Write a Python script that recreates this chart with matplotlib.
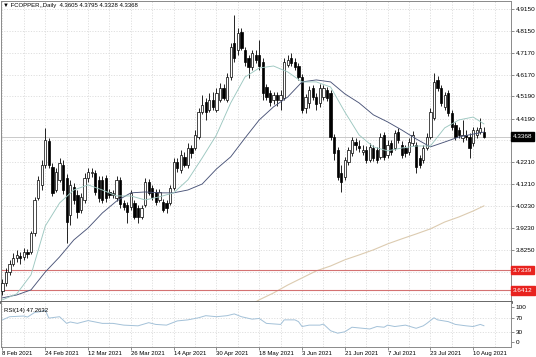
import matplotlib
matplotlib.use("Agg")
import matplotlib.pyplot as plt
import matplotlib.transforms as mtransforms
import numpy as np

# ---------------- data ----------------
opens = [3.639, 3.675, 3.725, 3.761, 3.789, 3.798, 3.793, 3.816, 3.816, 3.902,
         4.060, 4.119, 4.209, 4.318, 4.200, 4.096, 4.142, 4.209, 4.151, 3.983,
         4.110, 4.074, 4.006, 4.051, 4.151, 4.173, 4.173, 4.142, 4.142, 4.151,
         4.087, 4.074, 4.060, 4.142, 4.037, 4.028, 4.019, 4.037, 4.015, 3.974,
         4.028, 4.132, 4.105, 4.087, 4.051, 4.042, 4.037, 4.037, 4.105, 4.223,
         4.187, 4.246, 4.209, 4.286, 4.286, 4.336, 4.449, 4.494, 4.458, 4.503,
         4.458, 4.503, 4.558, 4.503, 4.607, 4.761, 4.730, 4.811, 4.730, 4.693,
         4.653, 4.707, 4.707, 4.675, 4.562, 4.535, 4.503, 4.526, 4.503, 4.512,
         4.662, 4.693, 4.675, 4.657, 4.607, 4.467, 4.490, 4.558, 4.517, 4.490,
         4.517, 4.548, 4.535, 4.336, 4.277, 4.173, 4.155, 4.223, 4.264, 4.313,
         4.295, 4.268, 4.277, 4.232, 4.286, 4.277, 4.246, 4.345, 4.255, 4.309,
         4.286, 4.358, 4.300, 4.286, 4.268, 4.309, 4.300, 4.241, 4.232, 4.286,
         4.336, 4.422, 4.594, 4.558, 4.472, 4.535, 4.444, 4.390, 4.367, 4.331,
         4.345, 4.336, 4.309, 4.345, 4.358, 4.3605]
highs = [3.694, 3.743, 3.780, 3.811, 3.825, 3.816, 3.834, 3.829, 3.911, 4.065,
         4.160, 4.232, 4.377, 4.331, 4.218, 4.196, 4.241, 4.232, 4.169, 4.142,
         4.128, 4.096, 4.083, 4.173, 4.196, 4.196, 4.187, 4.160, 4.160, 4.164,
         4.101, 4.096, 4.160, 4.155, 4.051, 4.042, 4.096, 4.051, 4.028, 4.028,
         4.151, 4.146, 4.119, 4.101, 4.101, 4.055, 4.051, 4.119, 4.241, 4.241,
         4.277, 4.268, 4.309, 4.300, 4.367, 4.467, 4.526, 4.512, 4.535, 4.540,
         4.558, 4.580, 4.576, 4.626, 4.761, 4.888, 4.829, 4.829, 4.743, 4.707,
         4.730, 4.730, 4.775, 4.693, 4.576, 4.548, 4.540, 4.540, 4.548, 4.693,
         4.707, 4.716, 4.693, 4.671, 4.621, 4.531, 4.567, 4.571, 4.535, 4.576,
         4.571, 4.562, 4.548, 4.349, 4.291, 4.209, 4.246, 4.291, 4.336, 4.331,
         4.322, 4.300, 4.295, 4.309, 4.300, 4.291, 4.354, 4.358, 4.322, 4.322,
         4.367, 4.377, 4.318, 4.300, 4.331, 4.363, 4.313, 4.255, 4.300, 4.354,
         4.467, 4.626, 4.612, 4.571, 4.540, 4.548, 4.458, 4.404, 4.381, 4.413,
         4.367, 4.354, 4.381, 4.381, 4.422, 4.3795]
lows = [3.621, 3.662, 3.712, 3.752, 3.770, 3.761, 3.780, 3.789, 3.807, 3.888,
        4.051, 4.096, 4.196, 4.196, 4.069, 4.087, 4.132, 4.078, 3.856, 3.938,
        4.033, 3.970, 3.992, 4.037, 4.132, 4.155, 4.074, 4.042, 4.037, 4.042,
        4.060, 4.060, 4.046, 4.015, 4.006, 3.947, 4.006, 3.965, 3.947, 3.965,
        4.019, 4.074, 4.051, 4.028, 4.042, 3.997, 3.992, 4.028, 4.096, 4.178,
        4.173, 4.200, 4.196, 4.241, 4.277, 4.327, 4.440, 4.413, 4.449, 4.458,
        4.449, 4.494, 4.503, 4.494, 4.594, 4.675, 4.707, 4.730, 4.657, 4.603,
        4.639, 4.671, 4.639, 4.503, 4.503, 4.476, 4.485, 4.476, 4.458, 4.503,
        4.653, 4.657, 4.639, 4.594, 4.444, 4.444, 4.467, 4.503, 4.458, 4.472,
        4.503, 4.499, 4.322, 4.232, 4.142, 4.087, 4.142, 4.209, 4.250, 4.277,
        4.268, 4.255, 4.218, 4.223, 4.227, 4.218, 4.236, 4.232, 4.241, 4.255,
        4.277, 4.309, 4.241, 4.246, 4.255, 4.295, 4.173, 4.196, 4.218, 4.277,
        4.327, 4.413, 4.544, 4.476, 4.458, 4.431, 4.367, 4.322, 4.331, 4.313,
        4.322, 4.241, 4.295, 4.331, 4.349, 4.3328]
closes = [3.675, 3.725, 3.761, 3.789, 3.802, 3.789, 3.816, 3.807, 3.902, 4.051,
          4.142, 4.209, 4.322, 4.209, 4.083, 4.178, 4.218, 4.096, 3.951, 4.119,
          4.051, 3.997, 4.065, 4.151, 4.178, 4.178, 4.087, 4.060, 4.051, 4.060,
          4.074, 4.083, 4.142, 4.033, 4.019, 3.997, 4.083, 3.974, 3.974, 4.015,
          4.132, 4.083, 4.065, 4.042, 4.087, 4.006, 4.015, 4.105, 4.223, 4.196,
          4.255, 4.209, 4.286, 4.264, 4.345, 4.449, 4.481, 4.449, 4.503, 4.472,
          4.535, 4.558, 4.512, 4.607, 4.743, 4.693, 4.806, 4.739, 4.675, 4.653,
          4.716, 4.684, 4.657, 4.535, 4.517, 4.494, 4.526, 4.503, 4.526, 4.675,
          4.684, 4.671, 4.653, 4.607, 4.458, 4.517, 4.548, 4.517, 4.485, 4.558,
          4.558, 4.512, 4.336, 4.264, 4.155, 4.132, 4.232, 4.277, 4.322, 4.300,
          4.286, 4.277, 4.232, 4.291, 4.241, 4.232, 4.336, 4.246, 4.300, 4.268,
          4.354, 4.322, 4.255, 4.264, 4.313, 4.345, 4.200, 4.209, 4.286, 4.336,
          4.449, 4.585, 4.558, 4.490, 4.526, 4.444, 4.381, 4.336, 4.345, 4.345,
          4.336, 4.286, 4.367, 4.367, 4.377, 4.3368]

ma_idx = [0, 4, 8, 12, 16, 20, 24, 28, 32, 36, 40, 44, 48, 52, 56, 60, 64, 68,
          72, 76, 80, 84, 88, 92, 96, 100, 104, 108, 112, 116, 120, 124, 128,
          132, 135]
ma_fast = [3.599, 3.626, 3.712, 3.933, 4.037, 4.096, 4.119, 4.096, 4.069, 4.069,
           4.051, 4.065, 4.083, 4.142, 4.241, 4.345, 4.490, 4.607, 4.648, 4.657,
           4.630, 4.585, 4.585, 4.562, 4.449, 4.345, 4.291, 4.273, 4.286, 4.295,
           4.295, 4.377, 4.413, 4.426, 4.395]
ma_slow = [3.608, 3.621, 3.644, 3.725, 3.793, 3.870, 3.924, 3.992, 4.046, 4.083,
           4.087, 4.083, 4.083, 4.096, 4.123, 4.191, 4.246, 4.331, 4.413, 4.472,
           4.517, 4.585, 4.594, 4.585, 4.531, 4.490, 4.436, 4.404, 4.367, 4.327,
           4.291, 4.313, 4.336, 4.349, 4.358]
ma_long_idx = [70, 72, 76, 80, 84, 88, 92, 96, 100, 104, 108, 112, 116, 120,
               124, 128, 132, 135]
ma_long = [3.580, 3.599, 3.630, 3.666, 3.698, 3.730, 3.752, 3.780, 3.802, 3.825,
           3.852, 3.875, 3.897, 3.920, 3.951, 3.974, 4.001, 4.024]

rsi_idx = [0, 2, 6, 7, 9, 11, 12, 13, 16, 18, 19, 21, 24, 27, 28, 31, 34, 38,
           41, 43, 46, 49, 52, 55, 57, 60, 63, 65, 67, 70, 72, 74, 78, 79, 82,
           83, 84, 86, 89, 90, 92, 94, 96, 98, 101, 103, 105, 107, 108, 110,
           113, 116, 118, 119, 121, 122, 125, 127, 130, 132, 134, 135]
rsi_val = [64, 73, 75, 72, 85, 88, 92, 69, 73, 54, 58, 54, 62, 56, 54, 54, 49, 47,
           56, 51, 49, 61, 64, 70, 76, 73, 76, 81, 73, 66, 68, 54, 51, 64, 64,
           59, 45, 49, 49, 52, 33, 26, 30, 43, 40, 38, 45, 43, 49, 45,
           49, 40, 47, 54, 70, 64, 59, 51, 47, 45, 51, 47.26]

date_idx = [0, 12, 24, 36, 48, 60, 72, 84, 96, 108, 120, 132]
date_labels = ["8 Feb 2021", "24 Feb 2021", "12 Mar 2021", "26 Mar 2021",
               "14 Apr 2021", "30 Apr 2021", "18 May 2021", "3 Jun 2021",
               "21 Jun 2021", "7 Jul 2021", "23 Jul 2021", "10 Aug 2021"]
vgrid_idx = list(range(0, 143, 6))
price_ticks = [4.9150, 4.8150, 4.7170, 4.6170, 4.5190, 4.4190, 4.3210, 4.2210,
               4.1210, 4.0230, 3.9230, 3.8250, 3.7270, 3.6270]
price_tick_labels = ["4.9150", "4.8150", "4.7170", "4.6170", "4.5190", "4.4190",
                     "4.3210", "4.2210", "4.1210", "4.0230", "3.9230", "3.8250",
                     "", "3.6270"]
level_lines = [3.7339, 3.6412]
last_price = 4.3368
rsi_ticks = [0, 30, 70, 100]
rsi_levels = [30, 70]
title = "\u25bc FCOPPER,,Daily  4.3605 4.3795 4.3328 4.3368"
rsi_title = "RSI(14) 47.2632"

# ---------------- figure ----------------
plt.rcParams['font.family'] = ['Liberation Sans', 'DejaVu Sans']
W, H = 536, 357
fig = plt.figure(figsize=(W / 100, H / 100), dpi=100)
fig.patch.set_facecolor('white')

ax = fig.add_axes([1 / W, 1 - 302 / H, 510 / W, 301.5 / H])
rax = fig.add_axes([1 / W, 1 - 346.5 / H, 510 / W, 44.5 / H])

xmin, xmax = -0.42, 142.6
grid_kw = dict(color='#d6d6d6', lw=0.55, ls=(0, (1.5, 2.0)), zorder=0)

# main panel
o = np.array(opens); h = np.array(highs); l = np.array(lows); c = np.array(closes)
x = np.arange(len(c))
up = c >= o
ax.vlines(x, l, h, color='black', lw=0.6, zorder=3)
ax.bar(x, np.maximum(np.abs(c - o), 0.0015), bottom=np.minimum(o, c), width=0.64,
       color=np.where(up, 'white', 'black'), edgecolor='black', lw=0.5, zorder=4)

ax.plot(ma_long_idx, ma_long, color='#dccbb0', lw=0.8, zorder=2)
ax.plot(ma_idx, ma_slow, color='#4a5478', lw=0.65, zorder=5)
ax.plot(ma_idx, ma_fast, color='#9cc7c0', lw=0.65, zorder=5)

for v in price_ticks:
    ax.axhline(v, **grid_kw)
for v in vgrid_idx:
    ax.axvline(v, **grid_kw)
for v in level_lines:
    ax.axhline(v, color='#d47272', lw=0.8, zorder=2)
ax.axhline(last_price, color='#b4b4b4', lw=0.5, zorder=1)

ax.set_xlim(xmin, xmax)
ax.set_ylim(3.5891, 4.9534)
ax.set_xticks([])
ax.yaxis.tick_right()
ax.set_yticks(price_ticks)
ax.set_yticklabels(price_tick_labels)
ax.tick_params(axis='y', labelsize=4.6, length=2, pad=1.2, width=0.5,
               colors='#606060', labelcolor='black')
for s in ['top', 'left', 'right']:
    ax.spines[s].set_color('#8a8a8a')
    ax.spines[s].set_linewidth(0.7)
ax.spines['bottom'].set_color('#5a5a5a')
ax.spines['bottom'].set_linewidth(2.0)

ax.text(0.004, 0.993, title, transform=ax.transAxes, va='top', ha='left',
        fontsize=4.3, color='black', zorder=10,
        family=['Liberation Sans', 'DejaVu Sans'])

trans = mtransforms.blended_transform_factory(ax.transAxes, ax.transData)
ax.text(1.004, last_price, f"{last_price:.4f}", transform=trans, va='center',
        ha='left', fontsize=4.6, color='white', zorder=20, clip_on=False,
        bbox=dict(boxstyle='square,pad=0.3', fc='black', ec='black'))
for v in level_lines:
    ax.text(1.004, v, f"{v:.4f}", transform=trans, va='center', ha='left',
            fontsize=4.6, color='white', zorder=20, clip_on=False,
            bbox=dict(boxstyle='square,pad=0.3', fc='#e8231f', ec='#e8231f'))

# RSI panel
rax.plot(rsi_idx, rsi_val, color='#a3c1d8', lw=0.7, zorder=3)
for v in rsi_levels:
    rax.axhline(v, **grid_kw)
for v in vgrid_idx:
    rax.axvline(v, **grid_kw)
rax.set_xlim(xmin, xmax)
rax.set_ylim(-12, 115)
rax.yaxis.tick_right()
rax.set_yticks(rsi_ticks)
rax.set_yticklabels([str(v) for v in rsi_ticks])
rax.tick_params(axis='y', labelsize=4.6, length=2, pad=1.2, width=0.5,
                colors='#606060', labelcolor='black')
rax.set_xticks(date_idx)
rax.set_xticklabels(date_labels)
rax.tick_params(axis='x', labelsize=4.3, length=2, pad=1.0, width=0.5,
                colors='#606060', labelcolor='black')
for lab in rax.get_xticklabels():
    lab.set_horizontalalignment('left')
for s in ['bottom', 'left', 'right']:
    rax.spines[s].set_color('#8a8a8a')
    rax.spines[s].set_linewidth(0.7)
rax.spines['top'].set_visible(False)
rax.text(0.006, 0.86, rsi_title, transform=rax.transAxes, va='top', ha='left',
         fontsize=4.3, color='black', zorder=10)

fig.savefig("out.png", dpi=100)
